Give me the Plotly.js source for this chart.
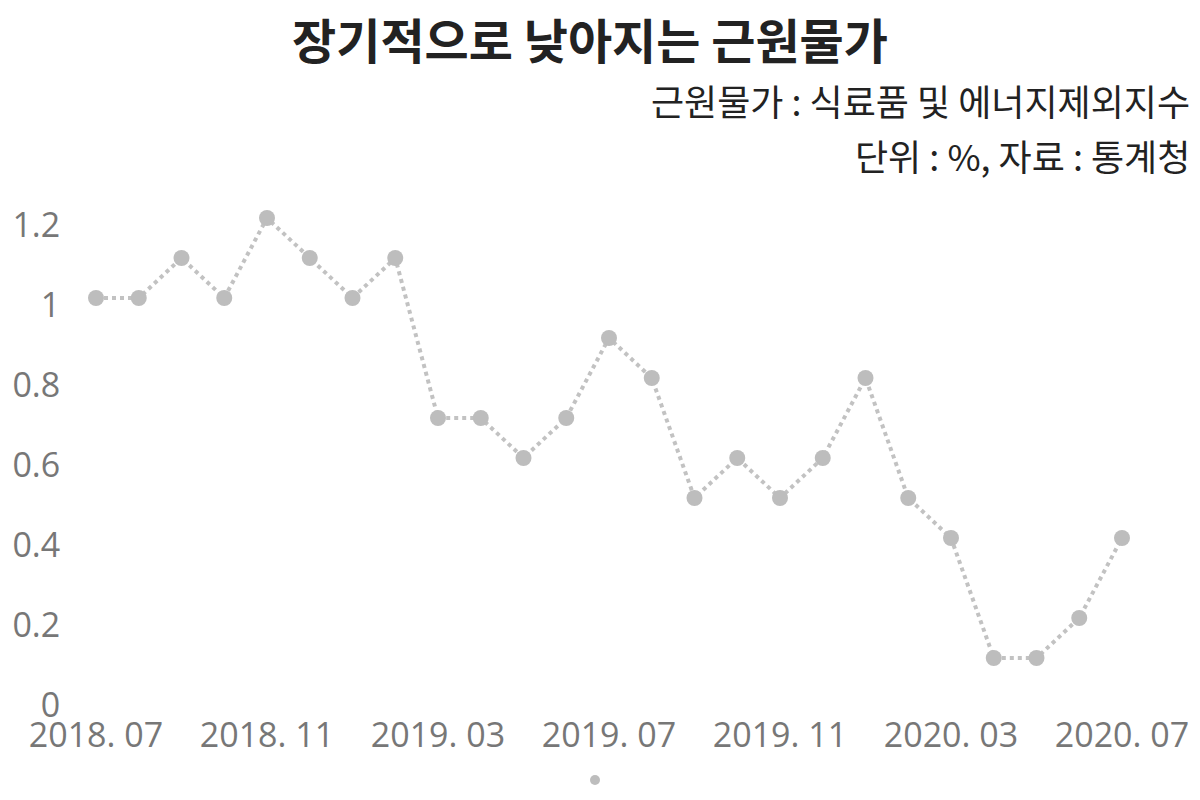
<!DOCTYPE html>
<html><head><meta charset="utf-8">
<script src="https://cdn.plot.ly/plotly-3.0.1.min.js"></script>
<style>body{margin:0;background:#fff}#chart{width:1200px;height:800px}</style>
</head><body><div id="chart"></div>
<script>
const months = ["2018. 07","2018. 08","2018. 09","2018. 10","2018. 11","2018. 12",
  "2019. 01","2019. 02","2019. 03","2019. 04","2019. 05","2019. 06","2019. 07","2019. 08",
  "2019. 09","2019. 10","2019. 11","2019. 12","2020. 01","2020. 02","2020. 03","2020. 04",
  "2020. 05","2020. 06","2020. 07"];
const coreInflation = [1.0,1.0,1.1,1.0,1.2,1.1,1.0,1.1,0.7,0.7,0.6,0.7,0.9,0.8,0.5,0.6,0.5,0.6,0.8,0.5,0.4,0.1,0.1,0.2,0.4];
const xTickLabels = ["2018. 07","2018. 11","2019. 03","2019. 07","2019. 11","2020. 03","2020. 07"];
const yTickVals = [0,0.2,0.4,0.6,0.8,1,1.2];
const yTickText = ["0","0.2","0.4","0.6","0.8","1","1.2"];

const font = "'Open Sans','Noto Sans CJK KR',sans-serif";
const krFont = "'Noto Sans CJK KR','Noto Sans',sans-serif";

// plot area: x 96..1122, y 198..698
const L = 96, W = 1026, T = 198, H = 500;
const px = v => (v - L) / W;
const py = v => (T + H - v) / H;

Plotly.newPlot('chart', [{
  type:'scatter', mode:'lines+markers', x:months, y:coreInflation,
  line:{color:'#c2c2c2', width:4, dash:'dot'},
  marker:{color:'#bdbdbd', size:16},
  cliponaxis:false, showlegend:false, hoverinfo:'x+y'
}], {
  width:1200, height:800,
  paper_bgcolor:'#fff', plot_bgcolor:'#fff',
  margin:{l:L, r:1200-L-W, t:T, b:800-T-H},
  title:{text:'장기적으로 낮아지는 근원물가', x:590/1200, xanchor:'center', y:1-42/800, yanchor:'middle',
    font:{family:krFont, size:48, color:'#222', weight:700}},
  xaxis:{type:'category', range:[0,24], tickvals:xTickLabels, ticktext:xTickLabels,
    showgrid:false, zeroline:false, showline:false,
    ticks:'outside', ticklen:7, tickcolor:'rgba(0,0,0,0)',
    tickfont:{family:font, size:34, color:'#777'}},
  yaxis:{range:[0,1.25], tickvals:yTickVals, ticktext:yTickText,
    showgrid:false, zeroline:false, showline:false,
    ticks:'outside', ticklen:28, tickcolor:'rgba(0,0,0,0)', ticklabelshift:7,
    tickfont:{family:font, size:34, color:'#777'}},
  annotations:[
    {xref:'paper', yref:'paper', x:px(1192), y:py(100), xanchor:'right', yanchor:'middle',
     text:'근원물가 : 식료품 및 에너지제외지수', showarrow:false, font:{family:krFont, size:36, color:'#222'}},
    {xref:'paper', yref:'paper', x:px(1192), y:py(155), xanchor:'right', yanchor:'middle',
     text:'단위 : %, 자료 : 통계청', showarrow:false, font:{family:krFont, size:36, color:'#222'}}
  ],
  shapes:[{type:'circle', xref:'paper', yref:'paper', xsizemode:'pixel', ysizemode:'pixel',
    xanchor:px(595), yanchor:py(780), x0:-5, x1:5, y0:-5, y1:5,
    fillcolor:'#bdbdbd', line:{width:0}}]
}, {displayModeBar:false});
</script></body></html>
